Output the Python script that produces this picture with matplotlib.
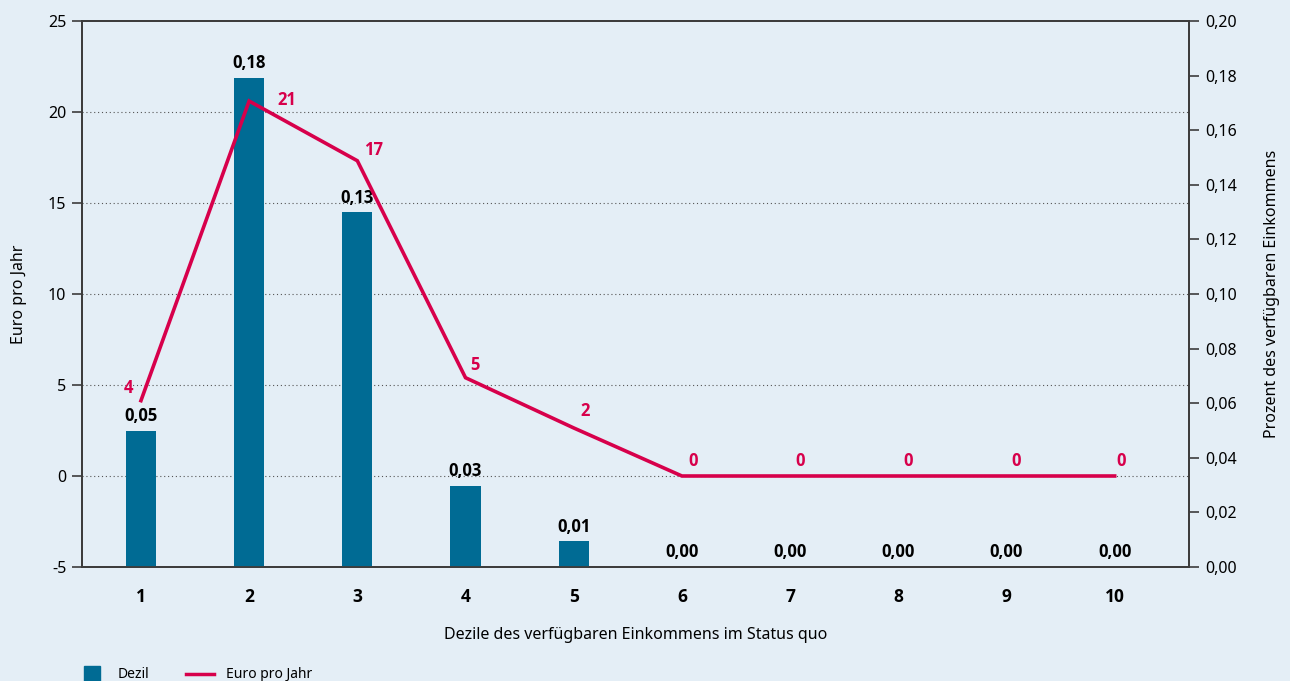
import numpy as np
import matplotlib
matplotlib.use("Agg")
import matplotlib.pyplot as plt
from matplotlib.lines import Line2D
from matplotlib.ticker import FuncFormatter

plt.rcParams['font.family'] = ['Noto Sans', 'DejaVu Sans']
plt.rcParams['axes.unicode_minus'] = False
BOLD = ['Open Sans', 'DejaVu Sans']  # Noto Sans has no bold face here

# data
deciles = [1, 2, 3, 4, 5, 6, 7, 8, 9, 10]
percent_income = [0.0498, 0.1792, 0.130, 0.0297, 0.0095, 0, 0, 0, 0, 0]
euro_per_year = [4.14, 20.6, 17.32, 5.40, 2.64, 0, 0, 0, 0, 0]
euro_labels = ["4", "21", "17", "5", "2", "0", "0", "0", "0", "0"]

# label offsets (points) for the red line labels
euro_offsets = [(-9, 9), (27, 1), (12, 8), (7, 9), (8, 12), (8, 11), (7, 11), (7, 11), (7, 11), (5, 11)]

bg = "#e4eef6"
bar_color = "#006b94"
line_color = "#d7004b"
spine_color = "#3c3c3c"

fig = plt.figure(figsize=(12.9, 6.81), dpi=100, facecolor=bg)
ax = fig.add_axes([0.0633, 0.1674, 0.9217 - 0.0633, 0.9692 - 0.1674])
ax.set_facecolor(bg)
ax2 = ax.twinx()

# left axis: Euro pro Jahr
ax.set_ylim(-5, 25)
ax.set_yticks([-5, 0, 5, 10, 15, 20, 25])
ax.set_xlim(0.452, 10.687)
for v in [0, 5, 10, 15, 20]:
    ax.axhline(v, color="#555555", lw=0.8, ls=(0, (1, 2.5)), zorder=0)

# right axis: Prozent
ax2.set_ylim(0, 0.20)
ax2.set_yticks(np.arange(0, 0.201, 0.02))
ax2.yaxis.set_major_formatter(FuncFormatter(lambda v, p: f"{v:.2f}".replace(".", ",")))

ax2.bar(deciles, percent_income, width=0.28, color=bar_color, zorder=2)
for x, v in zip(deciles, percent_income):
    ax2.annotate(f"{v:.2f}".replace(".", ","), (x, v), xytext=(0, 4), textcoords="offset points",
                 ha="center", va="bottom", fontsize=12, fontweight="bold", family=BOLD, color="black")

# line drawn in left-axis coordinates, on top of bars
ax2.plot(deciles, euro_per_year, color=line_color, lw=2.6, transform=ax.transData, zorder=3,
         solid_joinstyle="miter")
for x, v, lab, off in zip(deciles, euro_per_year, euro_labels, euro_offsets):
    ax2.annotate(lab, (x, v), xycoords=ax.transData, xytext=off, textcoords="offset points",
                 ha="center", va="center", fontsize=12, fontweight="bold", family=BOLD, color=line_color)

ax.set_xticks(deciles)
ax.set_xticklabels([str(d) for d in deciles], fontsize=12.5, fontweight="bold", family=BOLD)
ax.tick_params(axis="x", length=0, pad=15)
ax.tick_params(axis="y", direction="out", length=7, width=1.2, color=spine_color, labelsize=11.5, pad=4)
ax2.tick_params(axis="y", direction="out", length=7, width=1.2, color=spine_color, labelsize=11.5, pad=5)

for a in (ax, ax2):
    for s in a.spines.values():
        s.set_color(spine_color)
        s.set_linewidth(1.3)

ax.set_xlabel("Dezile des verfügbaren Einkommens im Status quo", fontsize=11.5, labelpad=15)
ax.set_ylabel("Euro pro Jahr", fontsize=11.5, labelpad=15)
ax2.set_ylabel("Prozent des verfügbaren Einkommens", fontsize=11.5, labelpad=19)

handles = [Line2D([], [], marker="s", ls="none", markersize=12, color=bar_color),
           Line2D([], [], color=line_color, lw=2.5)]
fig.legend(handles, ["Dezil", "Euro pro Jahr"], loc="center left", bbox_to_anchor=(0.0602, 0.009),
           ncol=2, frameon=False, fontsize=10, handlelength=2.0, handletextpad=0.9,
           columnspacing=2.6, borderpad=0, borderaxespad=0)

fig.savefig("out.png", dpi=100, facecolor=bg)
